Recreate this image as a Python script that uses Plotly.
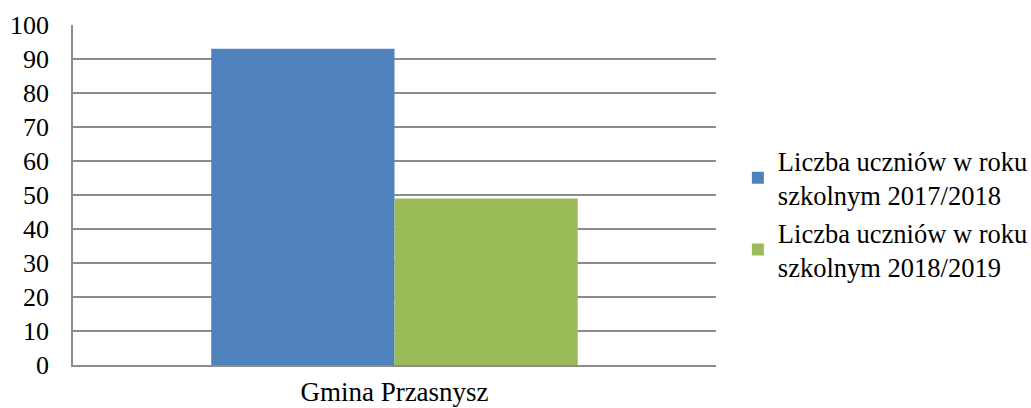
import plotly.graph_objects as go

# dane z wykresu
categories = ["Gmina Przasnysz"]
series_names = ["Liczba uczniów w roku<br>szkolnym 2017/2018",
                "Liczba uczniów w roku<br>szkolnym 2018/2019"]
values_2017 = [93]
values_2018 = [49]
colors = ["#4F81BD", "#9BBB59"]

fig = go.Figure()
fig.add_trace(go.Bar(x=categories, y=values_2017, name=series_names[0],
                     marker=dict(color=colors[0], line=dict(width=0))))
fig.add_trace(go.Bar(x=categories, y=values_2018, name=series_names[1],
                     marker=dict(color=colors[1], line=dict(width=0))))

font_family = "Liberation Serif"

fig.update_layout(
    width=1031, height=408,
    margin=dict(l=73, r=315, t=25, b=43, autoexpand=False),
    paper_bgcolor="white", plot_bgcolor="white",
    barmode="group", bargap=0.43, bargroupgap=0,
    font=dict(family=font_family, size=26, color="black"),
    legend=dict(x=1.034, y=0.445, xanchor="left", yanchor="middle",
                font=dict(family=font_family, size=26.5), itemwidth=30,
                tracegroupgap=0, bgcolor="rgba(0,0,0,0)"),
    showlegend=True,
)
fig.update_yaxes(range=[0, 100], dtick=10, showgrid=True, gridcolor="#8c8c8c",
                 gridwidth=1.5, showline=True, linecolor="#8c8c8c", linewidth=1.5,
                 zeroline=False, ticks="", ticklabelstandoff=17, automargin=False,
                 tickfont=dict(family=font_family, size=26))
fig.update_xaxes(showline=True, linecolor="#8c8c8c", linewidth=1.5,
                 ticks="outside", ticklen=2, tickcolor="rgba(0,0,0,0)", automargin=False,
                 tickfont=dict(family=font_family, size=27))

# strona bez marginesu body, zeby wykres zaczynal sie w rogu okna
fig.write_html("out.html", config={"displayModeBar": False},
               post_script="document.body.style.margin='0px';")
